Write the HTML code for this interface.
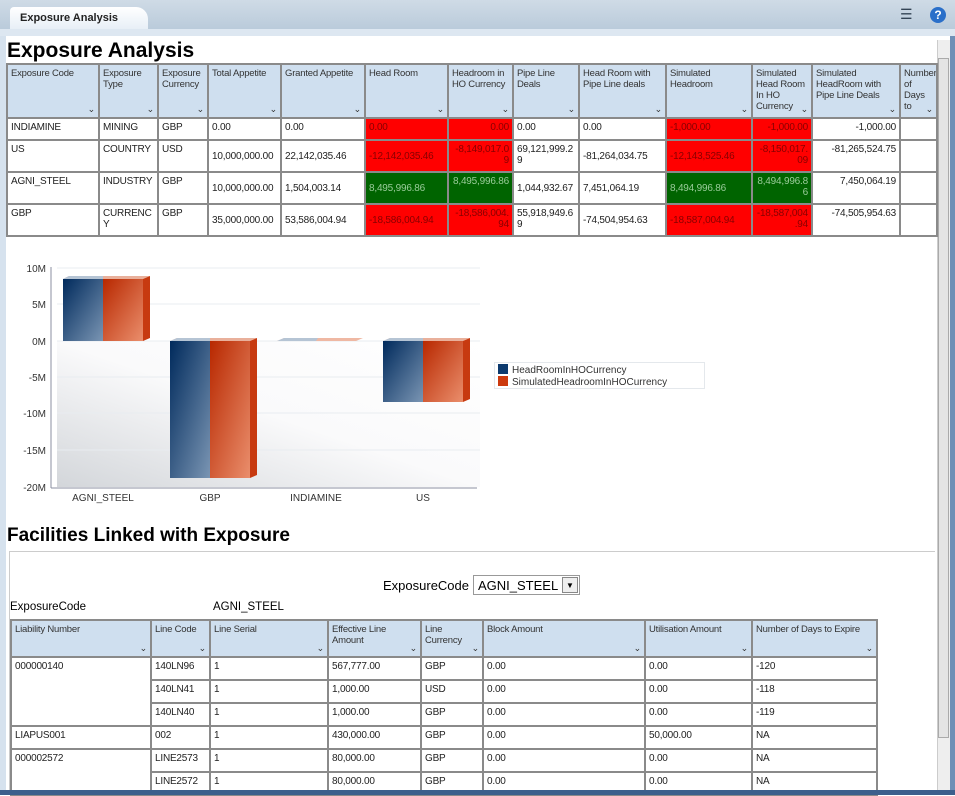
<!DOCTYPE html>
<html><head><meta charset="utf-8"><style>
*{margin:0;padding:0;box-sizing:border-box}
body{width:955px;height:795px;overflow:hidden;background:#fff;font-family:"Liberation Sans",sans-serif;position:relative;font-size:11px;color:#222}
.abs{position:absolute}
table{border-collapse:collapse;table-layout:fixed;position:absolute}
td,th{border:2px solid #8a8a8a;vertical-align:top;text-align:left;font-weight:normal;padding:3px 3px;font-size:10px;line-height:11px;overflow:hidden;white-space:normal;letter-spacing:-0.2px}
th{background:#cfdfef;color:#333;position:relative;font-size:9.5px}
th:after{content:"⌄";position:absolute;right:3px;bottom:2px;font-size:9px;color:#333}
.r{background:#ff0000;color:#800}
.g{background:#006400;color:#9c9}
.rt{text-align:right}
.m{vertical-align:middle}
</style></head><body>
<div class="abs" style="left:0;top:0;width:955px;height:36px;background:linear-gradient(#cfdbe6,#b5c7d8)"></div>
<div class="abs" style="left:10px;top:7px;width:138px;height:23px;background:linear-gradient(#fff,#e6eef6);border-radius:4px 12px 0 0;font-weight:bold;font-size:11px;padding:5px 10px">Exposure Analysis</div>
<div class="abs" style="left:0;top:29px;width:955px;height:7px;background:#dde7f1"></div>
<div class="abs" style="left:900px;top:6px;font-size:14px;color:#345">☰</div>
<div class="abs" style="left:930px;top:7px;width:16px;height:16px;border-radius:50%;background:#2a6fc9;color:#fff;font-weight:bold;font-size:12px;text-align:center;line-height:16px">?</div>
<div class="abs" style="left:0;top:36px;width:6px;height:759px;background:#d6e2ee"></div>
<div class="abs" style="left:950px;top:36px;width:5px;height:759px;background:#6f8fb6"></div>
<div class="abs" style="left:937px;top:40px;width:13px;height:750px;background:#eee;border-left:1px solid #ccc"></div>
<div class="abs" style="left:938px;top:58px;width:11px;height:680px;background:#e4e4e4;border:1px solid #aaa"></div>
<div class="abs" style="left:7px;top:39px;font-size:21px;font-weight:bold;color:#000">Exposure Analysis</div>

<table style="left:6px;top:63px;width:930px">
<colgroup><col style="width:92px"><col style="width:59px"><col style="width:50px"><col style="width:73px"><col style="width:84px"><col style="width:83px"><col style="width:65px"><col style="width:66px"><col style="width:87px"><col style="width:86px"><col style="width:60px"><col style="width:88px"><col style="width:37px"></colgroup>
<tr style="height:54px"><th>Exposure Code</th><th>Exposure Type</th><th>Exposure Currency</th><th>Total Appetite</th><th>Granted Appetite</th><th>Head Room</th><th>Headroom in HO Currency</th><th>Pipe Line Deals</th><th>Head Room with Pipe Line deals</th><th>Simulated Headroom</th><th>Simulated Head Room In HO Currency</th><th>Simulated HeadRoom with Pipe Line Deals</th><th>Number of Days to</th></tr>
<tr style="height:22px"><td>INDIAMINE</td><td>MINING</td><td>GBP</td><td>0.00</td><td>0.00</td><td class="r">0.00</td><td class="r rt">0.00</td><td>0.00</td><td>0.00</td><td class="r">-1,000.00</td><td class="r rt">-1,000.00</td><td class="rt">-1,000.00</td><td></td></tr>
<tr style="height:32px"><td>US</td><td>COUNTRY</td><td>USD</td><td class="m">10,000,000.00</td><td class="m">22,142,035.46</td><td class="r m">-12,142,035.46</td><td class="r rt">-8,149,017.0 9</td><td>69,121,999.2 9</td><td class="m">-81,264,034.75</td><td class="r m">-12,143,525.46</td><td class="r rt">-8,150,017. 09</td><td class="rt">-81,265,524.75</td><td></td></tr>
<tr style="height:32px"><td>AGNI_STEEL</td><td>INDUSTRY</td><td>GBP</td><td class="m">10,000,000.00</td><td class="m">1,504,003.14</td><td class="g m">8,495,996.86</td><td class="g rt">8,495,996.86</td><td class="m">1,044,932.67</td><td class="m">7,451,064.19</td><td class="g m">8,494,996.86</td><td class="g rt">8,494,996.8 6</td><td class="rt">7,450,064.19</td><td></td></tr>
<tr style="height:32px"><td>GBP</td><td>CURRENC Y</td><td>GBP</td><td class="m">35,000,000.00</td><td class="m">53,586,004.94</td><td class="r m">-18,586,004.94</td><td class="r rt">-18,586,004. 94</td><td>55,918,949.6 9</td><td class="m">-74,504,954.63</td><td class="r m">-18,587,004.94</td><td class="r rt">-18,587,004 .94</td><td class="rt">-74,505,954.63</td><td></td></tr>
</table>

<svg class="abs" style="left:0;top:250px" width="720" height="270" font-family="Liberation Sans,sans-serif" font-size="10">
<defs>
<linearGradient id="fl" x1="1" y1="0" x2="0" y2="1"><stop offset="0" stop-color="#fff"/><stop offset="0.5" stop-color="#fafafb"/><stop offset="1" stop-color="#d3d6da"/></linearGradient>
<linearGradient id="b" x1="0" y1="0" x2="1" y2="1"><stop offset="0" stop-color="#002a5c"/><stop offset="1" stop-color="#7a95b3"/></linearGradient>
<linearGradient id="o" x1="0" y1="0" x2="1" y2="1"><stop offset="0" stop-color="#b82800"/><stop offset="1" stop-color="#ea8e6c"/></linearGradient>
</defs>
<rect x="57" y="91" width="423" height="146" fill="url(#fl)"/>
<g stroke="#e8ecf0"><line x1="57" y1="18" x2="480" y2="18"/><line x1="57" y1="54" x2="480" y2="54"/><line x1="57" y1="91" x2="480" y2="91"/><line x1="57" y1="127" x2="480" y2="127"/><line x1="57" y1="163" x2="480" y2="163"/><line x1="57" y1="200" x2="480" y2="200"/></g>
<g stroke="#8b8fa0"><line x1="51" y1="17" x2="51" y2="238"/><line x1="51" y1="238" x2="477" y2="238"/></g>
<g fill="#333" text-anchor="end"><text x="46" y="22">10M</text><text x="46" y="58">5M</text><text x="46" y="95">0M</text><text x="46" y="131">-5M</text><text x="46" y="167">-10M</text><text x="46" y="204">-15M</text><text x="46" y="241">-20M</text></g>
<g fill="#333" text-anchor="middle"><text x="103" y="251">AGNI_STEEL</text><text x="210" y="251">GBP</text><text x="316" y="251">INDIAMINE</text><text x="423" y="251">US</text></g>
<polygon points="63,29 69,26 150,26 143,29" fill="#e9b09b"/><polygon points="63,29 69,26 103,26 103,29" fill="#b5c4d4"/>
<rect x="63" y="29" width="40" height="62" fill="url(#b)"/><rect x="103" y="29" width="40" height="62" fill="url(#o)"/>
<polygon points="143,29 150,26 150,88 143,91" fill="#c73a10"/>
<polygon points="170,91 177,88 257,88 250,91" fill="#e9b09b"/><polygon points="170,91 177,88 210,88 210,91" fill="#b5c4d4"/>
<rect x="170" y="91" width="40" height="137" fill="url(#b)"/><rect x="210" y="91" width="40" height="137" fill="url(#o)"/>
<polygon points="250,91 257,88 257,225 250,228" fill="#c73a10"/>
<polygon points="277,91 284,88 363,88 356,91" fill="#efb8a3"/><polygon points="277,91 284,88 318,88 316,91" fill="#b5c4d4"/>
<polygon points="383,91 390,88 470,88 463,91" fill="#e9b09b"/><polygon points="383,91 390,88 423,88 423,91" fill="#b5c4d4"/>
<rect x="383" y="91" width="40" height="61" fill="url(#b)"/><rect x="423" y="91" width="40" height="61" fill="url(#o)"/>
<polygon points="463,91 470,88 470,149 463,152" fill="#c73a10"/>
<rect x="494.5" y="112.5" width="210" height="26" fill="#fff" stroke="#e4e8ec"/>
<rect x="498" y="114" width="10" height="10" fill="#0c3a6e"/><rect x="498" y="126" width="10" height="10" fill="#cc3a0e"/>
<text x="512" y="123" fill="#333">HeadRoomInHOCurrency</text><text x="512" y="135" fill="#333">SimulatedHeadroomInHOCurrency</text>
</svg>

<div class="abs" style="left:7px;top:525px;font-size:19px;font-weight:bold;color:#000">Facilities Linked with Exposure</div>
<div class="abs" style="left:10px;top:551px;width:925px;height:1px;background:#ccc"></div>
<div class="abs" style="left:9px;top:551px;width:1px;height:240px;background:#ccc"></div>
<div class="abs" style="left:383px;top:578px;font-size:13px;color:#000">ExposureCode</div>
<div class="abs" style="left:473px;top:575px;width:107px;height:20px;border:1px solid #999;font-size:13px;color:#000;padding:2px 4px">AGNI_STEEL<span style="position:absolute;right:1px;top:1px;width:16px;height:16px;border:1px solid #888;background:#eee;font-size:8px;text-align:center;line-height:15px">▼</span></div>
<div class="abs" style="left:10px;top:601px;font-size:11.5px;color:#000">ExposureCode</div>
<div class="abs" style="left:213px;top:601px;font-size:11.5px;color:#000">AGNI_STEEL</div>

<table style="left:10px;top:619px;width:866px">
<colgroup><col style="width:140px"><col style="width:59px"><col style="width:118px"><col style="width:93px"><col style="width:62px"><col style="width:162px"><col style="width:107px"><col style="width:125px"></colgroup>
<tr style="height:37px"><th>Liability Number</th><th>Line Code</th><th>Line Serial</th><th>Effective Line Amount</th><th>Line Currency</th><th>Block Amount</th><th>Utilisation Amount</th><th>Number of Days to Expire</th></tr>
<tr style="height:23px"><td rowspan="3">000000140</td><td>140LN96</td><td>1</td><td>567,777.00</td><td>GBP</td><td>0.00</td><td>0.00</td><td>-120</td></tr>
<tr style="height:23px"><td>140LN41</td><td>1</td><td>1,000.00</td><td>USD</td><td>0.00</td><td>0.00</td><td>-118</td></tr>
<tr style="height:23px"><td>140LN40</td><td>1</td><td>1,000.00</td><td>GBP</td><td>0.00</td><td>0.00</td><td>-119</td></tr>
<tr style="height:23px"><td>LIAPUS001</td><td>002</td><td>1</td><td>430,000.00</td><td>GBP</td><td>0.00</td><td>50,000.00</td><td>NA</td></tr>
<tr style="height:23px"><td rowspan="2">000002572</td><td>LINE2573</td><td>1</td><td>80,000.00</td><td>GBP</td><td>0.00</td><td>0.00</td><td>NA</td></tr>
<tr style="height:23px"><td>LINE2572</td><td>1</td><td>80,000.00</td><td>GBP</td><td>0.00</td><td>0.00</td><td>NA</td></tr>
</table>
<div class="abs" style="left:0;top:790px;width:955px;height:5px;background:#3c5f8c"></div>
</body></html>
